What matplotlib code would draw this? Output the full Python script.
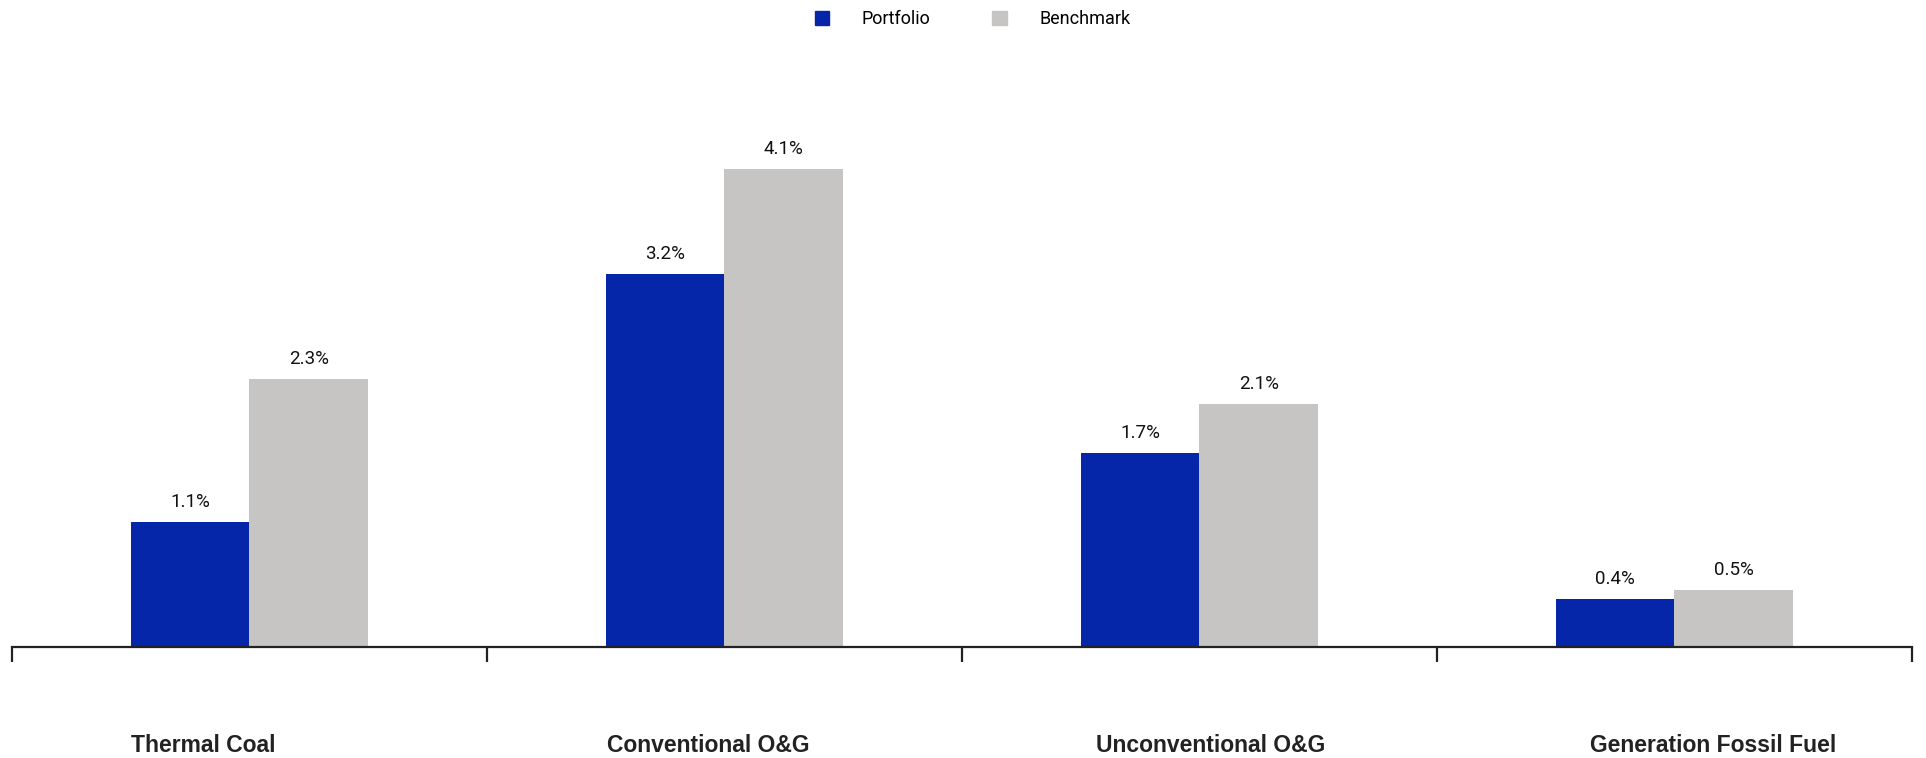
import numpy as np
import matplotlib.pyplot as plt
from matplotlib.patches import Patch

categories = ['Thermal Coal', 'Conventional O&G', 'Unconventional O&G', 'Generation Fossil Fuel']
portfolio = [1.07, 3.2, 1.66, 0.41]
benchmark = [2.3, 4.1, 2.08, 0.49]

blue = '#0526A8'
grey = '#C6C5C3'

fig = plt.figure(figsize=(19.26, 7.58), dpi=100)
ax = fig.add_axes([0.0062, 0.1464, 0.9865, 0.6926])

x = np.arange(len(categories))
w = 0.25
b1 = ax.bar(x - w / 2, portfolio, w, color=blue)
b2 = ax.bar(x + w / 2, benchmark, w, color=grey)

for bars in (b1, b2):
    for r in bars:
        h = r.get_height()
        ax.annotate(f'{h:.1f}%', (r.get_x() + r.get_width() / 2, h), xytext=(0, 8),
                    textcoords='offset points', ha='center', va='bottom',
                    fontsize=13.5, family='Roboto', color='#111111')

ax.set_xlim(-0.5, 3.5)
ax.set_ylim(0, 4.5)
ax.set_yticks([])
for s in ['top', 'right', 'left']:
    ax.spines[s].set_visible(False)
ax.spines['bottom'].set_color('#222222')
ax.spines['bottom'].set_linewidth(1.6)
ax.set_xticks(np.arange(-0.5, 4, 1))
ax.set_xticklabels([])
ax.tick_params(axis='x', direction='out', length=11, width=1.6, color='#222222')

# category names sit under the bars, left-ish aligned
label_x = [-0.25, 0.753, 1.782, 2.823]
for lx, name in zip(label_x, categories):
    ax.text(lx, -0.188, name, transform=ax.get_xaxis_transform(), ha='left', va='center',
            fontsize=16.5, fontweight='bold', family='Liberation Sans', color='#222222')

handles = [Patch(color=blue, label='Portfolio'), Patch(color=grey, label='Benchmark')]
fig.legend(handles=handles, loc='upper center', bbox_to_anchor=(0.505, 1.008), ncol=2,
           frameon=False, handlelength=0.8, handleheight=0.8, handletextpad=1.8,
           columnspacing=3.4, prop={'family': 'Roboto', 'size': 13})

fig.savefig('out.png', dpi=100)
